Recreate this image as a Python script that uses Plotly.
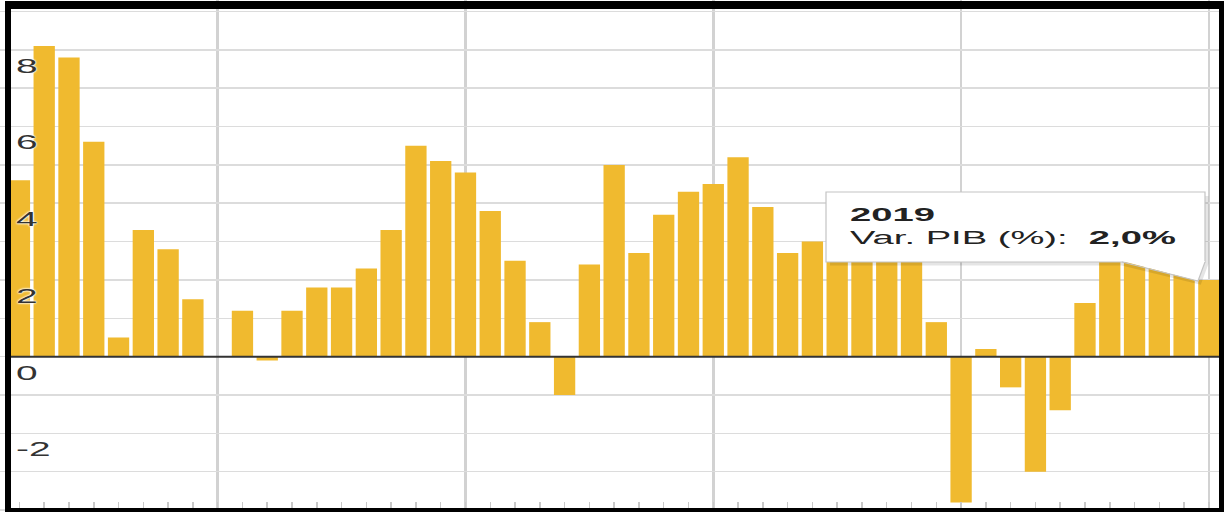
import plotly.graph_objects as go

# Spain: annual GDP growth (Var. PIB, %)
years = list(range(1971, 2020))
pib = [4.6, 8.1, 7.8, 5.6, 0.5, 3.3, 2.8, 1.5, 0.0,
       1.2, -0.1, 1.2, 1.8, 1.8, 2.3, 3.3, 5.5, 5.1, 4.8,
       3.8, 2.5, 0.9, -1.0, 2.4, 5.0, 2.7, 3.7, 4.3, 4.5,
       5.2, 3.9, 2.7, 3.0, 3.2, 3.7, 4.2, 3.8, 0.9, -3.8,
       0.2, -0.8, -3.0, -1.4, 1.4, 3.8, 3.0, 3.0, 2.4, 2.0]
decade_ticks = [1979, 1989, 1999, 2009, 2019]
y_labels = [8, 6, 4, 2, 0, -2]
hover_year = 2019
hover_value = pib[years.index(hover_year)]

W, H = 1224, 512
BAR = "#F0BA2F"


def px(x):
    return x / W


def py(y):
    return 1 - y / H


fig = go.Figure()
fig.add_trace(go.Bar(x=years, y=pib, marker=dict(color=BAR, line=dict(width=0)),
                     hoverinfo="skip"))

shapes = []
# zero line
shapes.append(dict(type="line", xref="paper", x0=px(11), x1=1, yref="y", y0=0, y1=0,
                   line=dict(color="#333333", width=2), layer="above"))

# tooltip box with a callout pointing at the hovered bar
tx0, tx1, ty0, ty1 = 826, 1205, 192, 262
ax_, ay_ = 1198, 281
cx = 1122
shadow = (f"M {px(tx1 + 1.5)},{py(ty0 + 4)} L {px(tx1 + 1.5)},{py(ty1 + 1.5)} "
          f"L {px(ax_ + 1.5)},{py(ay_ + 1.5)} L {px(cx)},{py(ty1 + 1.5)} "
          f"L {px(tx0 + 4)},{py(ty1 + 1.5)}")
shapes.append(dict(type="path", xref="paper", yref="paper", path=shadow,
                   line=dict(color="rgba(0,0,0,0.10)", width=4), layer="above"))
shapes.append(dict(type="rect", xref="paper", yref="paper",
                   x0=px(tx0), x1=px(tx1), y0=py(ty1), y1=py(ty0),
                   fillcolor="#ffffff", line=dict(color="#c4c4c4", width=1.2),
                   layer="above"))
tri = (f"M {px(cx)},{py(ty1 - 1)} L {px(ax_)},{py(ay_)} "
       f"L {px(tx1)},{py(ty1 - 1)} Z")
shapes.append(dict(type="path", xref="paper", yref="paper", path=tri,
                   fillcolor="#ffffff", line=dict(width=0), layer="above"))
edges = (f"M {px(cx)},{py(ty1)} L {px(ax_)},{py(ay_)} L {px(tx1)},{py(ty1)}")
shapes.append(dict(type="path", xref="paper", yref="paper", path=edges,
                   line=dict(color="#c4c4c4", width=1.2), layer="above"))

# outer black frame
frame = [(6, 1, W, 9), (5, 1, 11, H), (1219, 1, W, H), (5, 508, W, H)]
for x0, y0, x1, y1 in frame:
    shapes.append(dict(type="rect", xref="paper", yref="paper",
                       x0=px(x0), x1=px(x1), y0=py(y1), y1=py(y0),
                       fillcolor="#000000", line=dict(width=0), layer="above"))

annotations = []
for v in y_labels:
    annotations.append(dict(
        text=str(v), xref="paper", x=px(15), xanchor="left",
        yref="y", y=v - 0.40, yanchor="middle", showarrow=False,
        borderpad=0,
        font=dict(family="Liberation Sans, Arial, sans-serif", size=21, color="#333333",
                  shadow="0 0 2px #fff, 0 0 2px #fff, 0 0 3px #fff")))

value_txt = f"{hover_value:.1f}".replace(".", ",")
annotations.append(dict(
    text=f"<b>{hover_year}</b><br>Var. PIB (%):  <b>{value_txt}%</b>",
    xref="paper", x=px(849), xanchor="left",
    yref="paper", y=py(204), yanchor="top", align="left",
    showarrow=False, borderpad=0,
    font=dict(family="Liberation Sans, Arial, sans-serif", size=18, color="#222222")))

fig.update_layout(
    width=W, height=H,
    margin=dict(l=0, r=0, t=0, b=0),
    paper_bgcolor="white", plot_bgcolor="white",
    showlegend=False, bargap=0.14,
    shapes=shapes, annotations=annotations,
    xaxis=dict(range=[1970.216, 2019.61], tickmode="array", tickvals=decade_ticks,
               showticklabels=False, showgrid=True, gridcolor="#d2d2d2", gridwidth=2.5,
               ticks="inside", ticklen=10, tickcolor="#c8c8c8", tickwidth=1.5,
               zeroline=False, showline=False, fixedrange=True,
               minor=dict(tickmode="linear", tick0=1971, dtick=1, ticks="inside",
                          ticklen=10, tickcolor="#c8c8c8", tickwidth=1.5, showgrid=False)),
    yaxis=dict(range=[-4.05, 9.299], dtick=1, tick0=0, showticklabels=False,
               showgrid=True, gridcolor="#dcdcdc", gridwidth=1.5,
               zeroline=False, showline=False, fixedrange=True),
)

# the labels are drawn horizontally widened, anchored at their left edge
stretch_js = """
var gd = document.getElementById('{plot_id}');
gd.querySelectorAll('.annotation-text').forEach(function(t){
  var s = t.textContent.indexOf('PIB') >= 0 ? 2.12 : 1.85;
  var b = t.getBBox();
  var tr = t.getAttribute('transform') || '';
  t.setAttribute('transform', tr + ' translate(' + b.x + ',0) scale(' + s + ',1) translate(' + (-b.x) + ',0)');
});
"""

fig.write_html("out.html", config={"displayModeBar": False, "staticPlot": True},
               post_script=stretch_js)
